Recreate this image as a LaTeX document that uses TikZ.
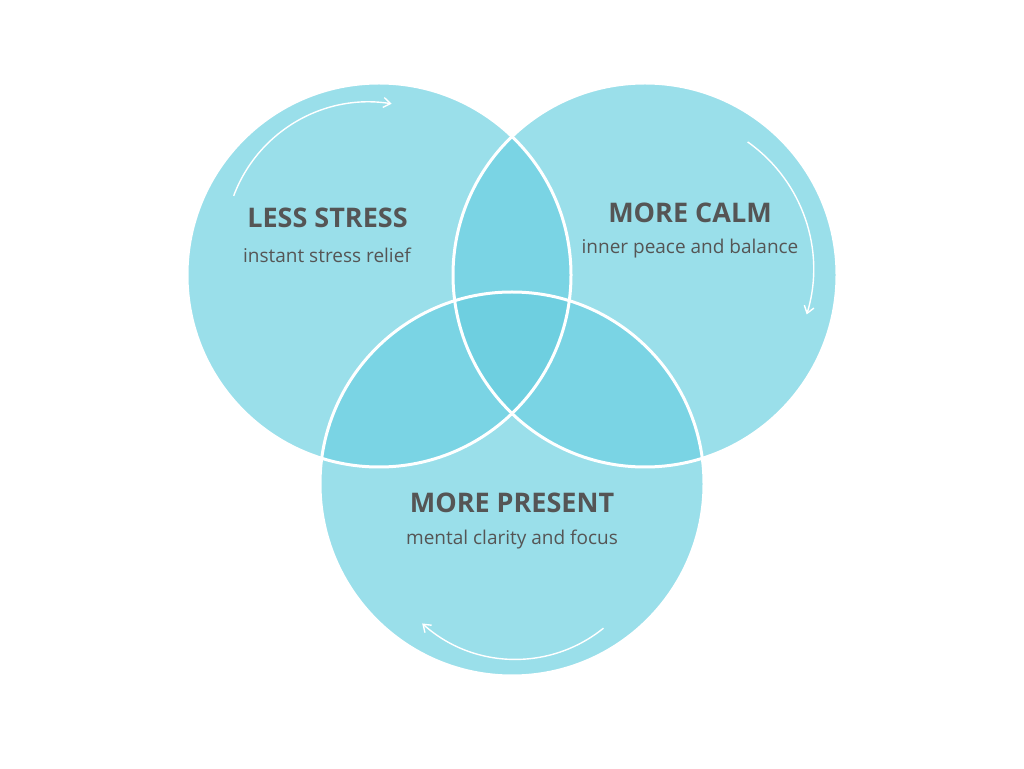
\documentclass[tikz,border=0pt]{standalone}
\usepackage{fontspec}
\setmainfont{Open Sans}
\usepackage{tikz}
\usetikzlibrary{arrows.meta}
\definecolor{ringbase}{HTML}{9ADFEA}
\definecolor{ringpair}{HTML}{7AD4E4}
\definecolor{ringcore}{HTML}{6ECFE0}
\definecolor{labelgray}{HTML}{555555}
\tikzstyle{title} = [text=labelgray, font=\bfseries\fontsize{27}{30}\selectfont, inner sep=0pt]
\tikzstyle{sub} = [text=labelgray, font=\fontsize{19}{22}\selectfont, inner sep=0pt]
\tikzstyle{rim} = [draw=white, line width=3pt]
\tikzstyle{turn} = [white, line width=1.4pt, -{Straight Barb[length=7pt,width=10pt]}]

\begin{document}
\begin{tikzpicture}[x=1pt,y=1pt]
			\useasboundingbox (0,0) rectangle (1024,768);
			\coordinate (stress) at (379,493);
			\coordinate (calm) at (645,493);
			\coordinate (present) at (512,284);
			\fill[ringbase] (stress) circle[radius=192pt];
			\fill[ringbase] (calm) circle[radius=192pt];
			\fill[ringbase] (present) circle[radius=192pt];
			\begin{scope}
				\clip (stress) circle[radius=192pt];
				\fill[ringpair] (calm) circle[radius=192pt];
				\fill[ringpair] (present) circle[radius=192pt];
			\end{scope}
			\begin{scope}
				\clip (calm) circle[radius=192pt];
				\fill[ringpair] (present) circle[radius=192pt];
			\end{scope}
			\begin{scope}
				\clip (stress) circle[radius=192pt];
				\clip (calm) circle[radius=192pt];
				\fill[ringcore] (present) circle[radius=192pt];
			\end{scope}
			\draw[rim] (stress) circle[radius=192pt];
			\draw[rim] (calm) circle[radius=192pt];
			\draw[rim] (present) circle[radius=192pt];
			\draw[turn] (369,521.5) ++(159.5:144.5pt) arc[start angle=159.5, end angle=81, radius=144.5pt];
			\draw[turn] (658,499) ++(54.8:155.5pt) arc[start angle=54.8, end angle=-17, radius=155.5pt];
			\draw[turn] (515.6,248.3) ++(-51:139.6pt) arc[start angle=-51, end angle=-132, radius=139.6pt];
			\node[title] (stresstitle) at (327.5,550) {LESS STRESS};
			\node[sub] (stresssub) at (327,513) {instant stress relief};
			\node[title] (calmtitle) at (690,555) {MORE CALM};
			\node[sub] (calmsub) at (690,519) {inner peace and balance};
			\node[title] (presenttitle) at (512,265) {MORE PRESENT};
			\node[sub] (presentsub) at (512,228) {mental clarity and focus};
		\end{tikzpicture}
\end{document}
